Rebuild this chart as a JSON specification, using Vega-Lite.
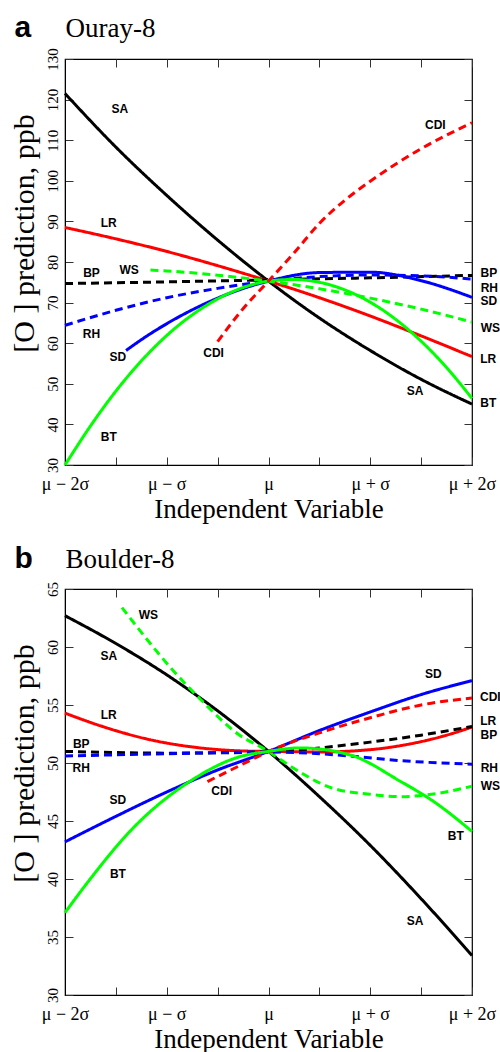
{
  "$schema": "https://vega.github.io/schema/vega-lite/v6.json",
  "padding": {"left": 8, "top": 11, "right": 0, "bottom": 0},
  "bounds": "flush",
  "spacing": 124,
  "datasets": {
    "linesA": [
      {"s":"SA","x":-2,"y":121.5},{"s":"SA","x":-1.5,"y":108.3},{"s":"SA","x":-1,"y":96.4},{"s":"SA","x":-0.5,"y":85.4},{"s":"SA","x":0,"y":75.3},{"s":"SA","x":0.5,"y":66.2},{"s":"SA","x":1,"y":58.2},{"s":"SA","x":1.5,"y":51.1},{"s":"SA","x":2,"y":45},
      {"s":"LR","x":-2,"y":88.5},{"s":"LR","x":-1.5,"y":85.7},{"s":"LR","x":-1,"y":82.6},{"s":"LR","x":-0.5,"y":79.1},{"s":"LR","x":0,"y":75.3},{"s":"LR","x":0.5,"y":71.2},{"s":"LR","x":1,"y":66.7},{"s":"LR","x":1.5,"y":61.8},{"s":"LR","x":2,"y":56.7},
      {"s":"BP","x":-2,"y":74.7},{"s":"BP","x":-1,"y":75.1},{"s":"BP","x":0,"y":75.6},{"s":"BP","x":1,"y":76.1},{"s":"BP","x":2,"y":76.7},
      {"s":"RH","x":-2,"y":64.4},{"s":"RH","x":-1.5,"y":68.1},{"s":"RH","x":-1,"y":71.2},{"s":"RH","x":-0.5,"y":73.5},{"s":"RH","x":0,"y":75.3},{"s":"RH","x":0.5,"y":76.4},{"s":"RH","x":1,"y":76.8},{"s":"RH","x":1.5,"y":76.6},{"s":"RH","x":2,"y":75.8},
      {"s":"SD","x":-1.4,"y":58.2},{"s":"SD","x":-1.2,"y":61.7},{"s":"SD","x":-1,"y":64.8},{"s":"SD","x":-0.5,"y":71.1},{"s":"SD","x":0,"y":75.3},{"s":"SD","x":0.5,"y":77.4},{"s":"SD","x":1,"y":77.5},{"s":"SD","x":1.5,"y":75.4},{"s":"SD","x":2,"y":71.3},
      {"s":"BT","x":-2,"y":30},{"s":"BT","x":-1.75,"y":39.6},{"s":"BT","x":-1.5,"y":48.2},{"s":"BT","x":-1,"y":61.9},{"s":"BT","x":-0.5,"y":70.9},{"s":"BT","x":-0.25,"y":73.7},{"s":"BT","x":0,"y":75.3},{"s":"BT","x":0.25,"y":75.7},{"s":"BT","x":0.5,"y":75.0},{"s":"BT","x":1,"y":70.1},{"s":"BT","x":1.5,"y":60.5},{"s":"BT","x":1.75,"y":54.0},{"s":"BT","x":2,"y":46.4},
      {"s":"WS","x":-1.16,"y":78.0},{"s":"WS","x":-1,"y":77.8},{"s":"WS","x":-0.5,"y":76.75},{"s":"WS","x":0,"y":75.3},{"s":"WS","x":0.5,"y":73.4},{"s":"WS","x":1,"y":71.1},{"s":"WS","x":1.5,"y":68.4},{"s":"WS","x":2,"y":65.2},
      {"s":"CDI","x":-0.5,"y":60.4},{"s":"CDI","x":-0.25,"y":68.5},{"s":"CDI","x":0,"y":75.3},{"s":"CDI","x":0.25,"y":82.2},{"s":"CDI","x":0.5,"y":89.5},{"s":"CDI","x":0.75,"y":95.2},{"s":"CDI","x":1,"y":99.9},{"s":"CDI","x":1.5,"y":107.9},{"s":"CDI","x":2,"y":114.3}
    ],
    "labelsA": [
      {"t":"SA","x":-1.46,"y":117.7},{"t":"CDI","x":1.64,"y":113.7},{"t":"LR","x":-1.57,"y":89.6},{"t":"BP","x":-1.74,"y":77.3},{"t":"WS","x":-1.37,"y":78.1},{"t":"RH","x":-1.74,"y":62.2},{"t":"SD","x":-1.48,"y":56.5},{"t":"CDI","x":-0.54,"y":57.5},{"t":"BT","x":-1.57,"y":37.0},{"t":"SA","x":1.44,"y":48.3},
      {"t":"BP","x":2.165,"y":77.3},{"t":"RH","x":2.17,"y":73.7},{"t":"SD","x":2.165,"y":70.3},{"t":"WS","x":2.18,"y":63.7},{"t":"LR","x":2.16,"y":56.0},{"t":"BT","x":2.16,"y":45.2}
    ],
    "linesB": [
      {"s":"SA","x":-2,"y":62.7},{"s":"SA","x":-1.5,"y":60.3},{"s":"SA","x":-1,"y":57.6},{"s":"SA","x":-0.5,"y":54.5},{"s":"SA","x":0,"y":51},{"s":"SA","x":0.5,"y":47.1},{"s":"SA","x":1,"y":42.9},{"s":"SA","x":1.5,"y":38.3},{"s":"SA","x":2,"y":33.4},
      {"s":"WS","x":-1.44,"y":63.4},{"s":"WS","x":-0.96,"y":58.2},{"s":"WS","x":-0.67,"y":55.5},{"s":"WS","x":-0.3,"y":52.5},{"s":"WS","x":0,"y":51},{"s":"WS","x":0.15,"y":50.1},{"s":"WS","x":0.64,"y":47.8},{"s":"WS","x":1,"y":47.3},{"s":"WS","x":1.3,"y":47.1},{"s":"WS","x":1.6,"y":47.3},{"s":"WS","x":2,"y":48.0},
      {"s":"LR","x":-2,"y":54.3},{"s":"LR","x":-1.65,"y":53.2},{"s":"LR","x":-1.16,"y":52.0},{"s":"LR","x":-0.67,"y":51.3},{"s":"LR","x":-0.18,"y":51.02},{"s":"LR","x":0,"y":51},{"s":"LR","x":0.5,"y":50.95},{"s":"LR","x":1,"y":51.15},{"s":"LR","x":1.3,"y":51.5},{"s":"LR","x":1.79,"y":52.5},{"s":"LR","x":2,"y":53.1},
      {"s":"BP","x":-2,"y":51.0},{"s":"BP","x":-1,"y":50.85},{"s":"BP","x":0,"y":50.95},{"s":"BP","x":0.5,"y":51.3},{"s":"BP","x":1,"y":51.8},{"s":"BP","x":1.5,"y":52.4},{"s":"BP","x":2,"y":53.15},
      {"s":"RH","x":-2,"y":50.6},{"s":"RH","x":-1,"y":50.8},{"s":"RH","x":0,"y":50.95},{"s":"RH","x":0.4,"y":50.85},{"s":"RH","x":0.8,"y":50.6},{"s":"RH","x":1.3,"y":50.2},{"s":"RH","x":2,"y":49.9},
      {"s":"SD","x":-2,"y":43.2},{"s":"SD","x":-1.5,"y":45.4},{"s":"SD","x":-1,"y":47.5},{"s":"SD","x":-0.5,"y":49.4},{"s":"SD","x":0,"y":51},{"s":"SD","x":0.5,"y":52.8},{"s":"SD","x":1,"y":54.4},{"s":"SD","x":1.5,"y":55.9},{"s":"SD","x":2,"y":57.1},
      {"s":"CDI","x":-0.6,"y":48.4},{"s":"CDI","x":-0.3,"y":49.7},{"s":"CDI","x":0,"y":51},{"s":"CDI","x":0.5,"y":52.6},{"s":"CDI","x":1,"y":53.9},{"s":"CDI","x":1.5,"y":55.0},{"s":"CDI","x":2,"y":55.6},
      {"s":"BT","x":-2,"y":37.1},{"s":"BT","x":-1.77,"y":39.8},{"s":"BT","x":-1.33,"y":44.4},{"s":"BT","x":-0.74,"y":48.6},{"s":"BT","x":-0.3,"y":50.5},{"s":"BT","x":0,"y":51},{"s":"BT","x":0.31,"y":51.3},{"s":"BT","x":0.8,"y":50.7},{"s":"BT","x":1.3,"y":48.4},{"s":"BT","x":1.62,"y":46.7},{"s":"BT","x":2,"y":44.1}
    ],
    "labelsB": [
      {"t":"WS","x":-1.18,"y":62.8},{"t":"SA","x":-1.57,"y":59.2},{"t":"LR","x":-1.57,"y":54.1},{"t":"BP","x":-1.84,"y":51.65},{"t":"RH","x":-1.84,"y":49.6},{"t":"SD","x":-1.48,"y":46.8},{"t":"CDI","x":-0.46,"y":47.6},{"t":"BT","x":-1.48,"y":40.4},{"t":"SD","x":1.62,"y":57.65},{"t":"SA","x":1.44,"y":36.4},{"t":"BT","x":1.84,"y":43.7},
      {"t":"CDI","x":2.18,"y":55.7},{"t":"LR","x":2.16,"y":53.6},{"t":"BP","x":2.165,"y":52.4},{"t":"RH","x":2.17,"y":49.6},{"t":"WS","x":2.18,"y":48.0}
    ]
  },
  "vconcat": [
    {
      "width": 407,
      "height": 406,
      "layer": [
        {
          "data": {"name": "linesA"},
          "mark": {"type": "line", "strokeWidth": 3, "interpolate": "monotone"},
          "encoding": {
            "x": {"field": "x", "type": "quantitative", "scale": {"domain": [-2, 2], "nice": false, "zero": false},
              "axis": {"orient": "bottom", "values": [-2,-1.5,-1,-0.5,0,0.5,1,1.5,2],
                "labelExpr": "datum.value == -2 ? 'μ − 2σ' : datum.value == -1 ? 'μ − σ' : datum.value == 0 ? 'μ' : datum.value == 1 ? 'μ + σ' : datum.value == 2 ? 'μ + 2σ' : ''",
                "labelFont": "Liberation Serif", "titleFont": "Liberation Serif",
                "labelFontSize": 18, "labelPadding": 18, "title": "Independent Variable", "titleFontSize": 27, "titlePadding": 3}},
            "y": {"field": "y", "type": "quantitative", "scale": {"domain": [30, 130], "nice": false, "zero": false},
              "axis": {"orient": "left", "values": [30,40,50,60,70,80,90,100,110,120,130], "labelAngle": 270, "labelAlign": "center", "labelBaseline": "bottom",
                "labelFont": "Liberation Serif", "titleFont": "Liberation Serif",
                "labelFontSize": 15, "labelPadding": 13, "title": "[O ] prediction, ppb", "titleFontSize": 30, "titleY": 174, "titlePadding": 6}},
            "color": {"field": "s", "type": "nominal", "legend": null,
              "scale": {"domain": ["SA","LR","BP","WS","RH","SD","BT","CDI"], "range": ["#000000","#ff0000","#000000","#00ff00","#0000ff","#0000ff","#00ff00","#ff0000"]}},
            "strokeDash": {"field": "s", "type": "nominal", "legend": null,
              "scale": {"domain": ["SA","LR","BP","WS","RH","SD","BT","CDI"], "range": [[1,0],[1,0],[8,5],[8,5],[8,5],[1,0],[1,0],[8,5]]}}
          }
        },
        {
          "data": {"name": "labelsA"},
          "mark": {"type": "text", "baseline": "middle", "align": "center"},
          "encoding": {
            "x": {"field": "x", "type": "quantitative", "scale": {"domain": [-2, 2], "nice": false, "zero": false},
              "axis": {"orient": "top", "values": [-2,-1.5,-1,-0.5,0,0.5,1,1.5,2], "labels": false, "domain": false,
                "title": "Ouray-8", "titleFont": "Liberation Serif", "titleFontSize": 27, "titleAnchor": "start", "titleAlign": "left", "titleBaseline": "alphabetic", "titleAngle": 0, "titleX": 0, "titleY": -23}},
            "y": {"field": "y", "type": "quantitative", "scale": {"domain": [30, 130], "nice": false, "zero": false},
              "axis": {"orient": "right", "values": [30,40,50,60,70,80,90,100,110,120,130], "labels": false, "domain": false,
                "title": "a", "titleFont": "Liberation Sans", "titleFontWeight": "bold", "titleFontSize": 30, "titleAngle": 0, "titleAlign": "left", "titleBaseline": "alphabetic", "titleX": -458, "titleY": -23}},
            "text": {"field": "t"}
          }
        }
      ],
      "resolve": {"axis": {"x": "independent", "y": "independent"}}
    },
    {
      "width": 407,
      "height": 406,
      "layer": [
        {
          "data": {"name": "linesB"},
          "mark": {"type": "line", "strokeWidth": 3, "interpolate": "monotone"},
          "encoding": {
            "x": {"field": "x", "type": "quantitative", "scale": {"domain": [-2, 2], "nice": false, "zero": false},
              "axis": {"orient": "bottom", "values": [-2,-1.5,-1,-0.5,0,0.5,1,1.5,2],
                "labelExpr": "datum.value == -2 ? 'μ − 2σ' : datum.value == -1 ? 'μ − σ' : datum.value == 0 ? 'μ' : datum.value == 1 ? 'μ + σ' : datum.value == 2 ? 'μ + 2σ' : ''",
                "labelFont": "Liberation Serif", "titleFont": "Liberation Serif",
                "labelFontSize": 18, "labelPadding": 18, "title": "Independent Variable", "titleFontSize": 27, "titlePadding": 3}},
            "y": {"field": "y", "type": "quantitative", "scale": {"domain": [30, 65], "nice": false, "zero": false},
              "axis": {"orient": "left", "values": [30,35,40,45,50,55,60,65], "labelAngle": 270, "labelAlign": "center", "labelBaseline": "bottom",
                "labelFont": "Liberation Serif", "titleFont": "Liberation Serif",
                "labelFontSize": 15, "labelPadding": 13, "title": "[O ] prediction, ppb", "titleFontSize": 30, "titleY": 174, "titlePadding": 6}},
            "color": {"field": "s", "type": "nominal", "legend": null,
              "scale": {"domain": ["SA","LR","BP","WS","RH","SD","BT","CDI"], "range": ["#000000","#ff0000","#000000","#00ff00","#0000ff","#0000ff","#00ff00","#ff0000"]}},
            "strokeDash": {"field": "s", "type": "nominal", "legend": null,
              "scale": {"domain": ["SA","LR","BP","WS","RH","SD","BT","CDI"], "range": [[1,0],[1,0],[8,5],[8,5],[8,5],[1,0],[1,0],[8,5]]}}
          }
        },
        {
          "data": {"name": "labelsB"},
          "mark": {"type": "text", "baseline": "middle", "align": "center"},
          "encoding": {
            "x": {"field": "x", "type": "quantitative", "scale": {"domain": [-2, 2], "nice": false, "zero": false},
              "axis": {"orient": "top", "values": [-2,-1.5,-1,-0.5,0,0.5,1,1.5,2], "labels": false, "domain": false,
                "title": "Boulder-8", "titleFont": "Liberation Serif", "titleFontSize": 27, "titleAnchor": "start", "titleAlign": "left", "titleBaseline": "alphabetic", "titleAngle": 0, "titleX": 0, "titleY": -22}},
            "y": {"field": "y", "type": "quantitative", "scale": {"domain": [30, 65], "nice": false, "zero": false},
              "axis": {"orient": "right", "values": [30,35,40,45,50,55,60,65], "labels": false, "domain": false,
                "title": "b", "titleFont": "Liberation Sans", "titleFontWeight": "bold", "titleFontSize": 30, "titleAngle": 0, "titleAlign": "left", "titleBaseline": "alphabetic", "titleX": -458, "titleY": -22}},
            "text": {"field": "t"}
          }
        }
      ],
      "resolve": {"axis": {"x": "independent", "y": "independent"}}
    }
  ],
  "config": {
    "view": {"stroke": "black", "strokeWidth": 1.2},
    "axis": {"grid": false, "domainColor": "black", "tickColor": "#333333", "tickSize": -8, "tickWidth": 1, "labelColor": "black", "titleColor": "black",
      "labelFont": "Liberation Serif", "titleFont": "Liberation Serif", "titleFontWeight": "normal", "labelOverlap": false, "labelFlush": false},
    "text": {"font": "Liberation Sans", "fontWeight": "bold", "fontSize": 12, "color": "black"}
  }
}
